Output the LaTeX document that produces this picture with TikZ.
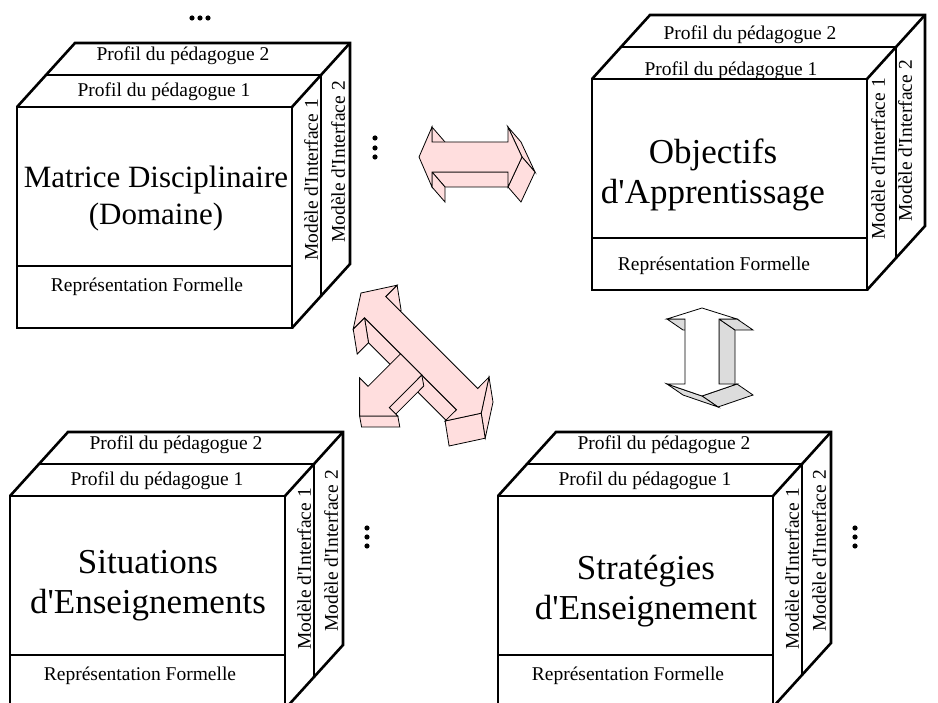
\documentclass[tikz,border=0pt]{standalone}
\usepackage{fontspec}
\setmainfont{Liberation Serif}
\usetikzlibrary{calc}

\definecolor{arrowpink}{RGB}{255,222,222}
\definecolor{arrowgrey}{RGB}{220,220,220}

\tikzset{
    cubeline/.style={line width=2.6pt},
    facetext/.style={font=\fontsize{19.5}{23}\selectfont, inner sep=0pt},
    bigtext/.style={font=\fontsize{35}{40}\selectfont, align=center, inner sep=0pt},
    pinkface/.style={fill=arrowpink, draw=black, line width=0.8pt},
    whiteface/.style={fill=white, draw=black, line width=0.8pt},
    greyface/.style={fill=arrowgrey, draw=black, line width=0.8pt},
}

% #1 label shift, #2 name, #3 front top-left corner, #4 front height
\newcommand{\drawcube}[4][0,0]{%
    \begin{scope}[shift={#3}]
        \draw[cubeline] (0,0) rectangle (275,#4);
        \draw[cubeline] (0,159) -- (275,159);
        \draw[cubeline] (0,0) -- (58,-64) -- (333,-64) -- (333,#4-64) -- (275,#4);
        \draw[cubeline] (29,-32) -- (304,-32) -- (304,#4-32);
        \draw[cubeline] (275,0) -- (333,-64);
        \begin{scope}[shift={(#1)}]
            \node[facetext] (#2-p2) at (166,-51) {Profil du pédagogue 2};
            \node[facetext] (#2-p1) at (147,-15) {Profil du pédagogue 1};
            \node[facetext] (#2-rep) at (130,180) {Représentation Formelle};
            \node[facetext, rotate=90] (#2-m1) at (294,73) {Modèle d\textquotesingle Interface 1};
            \node[facetext, rotate=90] (#2-m2) at (321,55) {Modèle d\textquotesingle Interface 2};
        \end{scope}
    \end{scope}}

\begin{document}
\begin{tikzpicture}[x=1pt, y=-1pt]
        \clip (0,0) rectangle (938,703);

        \drawcube{dom}{(17,107)}{221}
        \drawcube[-8,7]{obj}{(592,79)}{211}
        \drawcube{sit}{(10,496)}{213}
        \drawcube{str}{(498,496)}{211}

        \node[bigtext, font=\fontsize{31}{37}\selectfont] (dom) at (156,199) {Matrice Disciplinaire\\(Domaine)};
        \node[bigtext] (obj) at (713,175) {Objectifs\\d\textquotesingle Apprentissage};
        \node[bigtext] (sit) at (148,586) {Situations\\d\textquotesingle Enseignements};
        \node[bigtext] (str) at (646,591) {Stratégies\\d\textquotesingle Enseignement};

        \foreach \x in {192,200,208} \fill (\x,18) circle (2.6pt);
        \foreach \y in {138,148,157} \fill (375,\y) circle (2.6pt);
        \foreach \y in {528,537,546} {
            \fill (367,\y) circle (2.6pt);
            \fill (855,\y) circle (2.6pt);
        }

        % horizontal arrow
        \foreach \n/\p in {1/{419,157}, 2/{432,127}, 3/{432,142}, 4/{508,142}, 5/{508,127},
                6/{522,157}, 7/{508,187}, 8/{508,172}, 9/{432,172}, 10/{432,187}}
            \coordinate (h\n) at (\p);
        \coordinate (hd) at (13,15);
        \foreach \a/\b in {8/9, 9/10, 2/3, 5/6, 6/7}
            \filldraw[pinkface] (h\a) -- (h\b) -- ($(h\b)+(hd)$) -- ($(h\a)+(hd)$) -- cycle;
        \filldraw[pinkface] (h1) \foreach \n in {2,...,10} {-- (h\n)} -- cycle;

        % vertical arrow
        \foreach \n/\p in {1/{702,308}, 2/{737,319}, 3/{719,319}, 4/{719,384}, 5/{737,384},
                6/{702,396}, 7/{667,384}, 8/{685,384}, 9/{685,319}, 10/{667,319}}
            \coordinate (v\n) at (\p);
        \coordinate (vd) at (16,11);
        \foreach \a/\b in {3/4, 2/3, 9/10, 5/6, 6/7}
            \filldraw[greyface] (v\a) -- (v\b) -- ($(v\b)+(vd)$) -- ($(v\a)+(vd)$) -- cycle;
        \filldraw[whiteface] (v1) \foreach \n in {2,...,10} {-- (v\n)} -- cycle;

        % diagonal arrow
        \foreach \n/\p in {1/{361,293}, 2/{397.1,285.2}, 3/{385.7,296.5}, 4/{477.7,388.5},
                5/{489.0,377.1}, 6/{481.2,413.2}, 7/{445.1,421.0}, 8/{456.5,409.7},
                9/{364.5,317.7}, 10/{353.2,329.1}}
            \coordinate (m\n) at (\p);
        \coordinate (md) at (4,25);
        \foreach \a/\b in {8/9, 9/10, 2/3, 5/6, 6/7}
            \filldraw[pinkface] (m\a) -- (m\b) -- ($(m\b)+(md)$) -- ($(m\a)+(md)$) -- cycle;
        \filldraw[pinkface] (m1) \foreach \n in {2,...,10} {-- (m\n)} -- cycle;

        \foreach \n/\p in {1/{421.8,375.0}, 2/{389.3,407.6}, 3/{397.8,416.0}, 4/{359.6,416.0},
                5/{359.6,377.9}, 6/{368.1,386.3}, 7/{400.6,353.8}}
            \coordinate (b\n) at (\p);
        \coordinate (bd) at (2,11);
        \foreach \a/\b in {2/1, 4/3}
            \filldraw[pinkface] (b\a) -- (b\b) -- ($(b\b)+(bd)$) -- ($(b\a)+(bd)$) -- cycle;
        \filldraw[pinkface] (b1) \foreach \n in {2,...,7} {-- (b\n)} -- cycle;
\end{tikzpicture}
\end{document}
